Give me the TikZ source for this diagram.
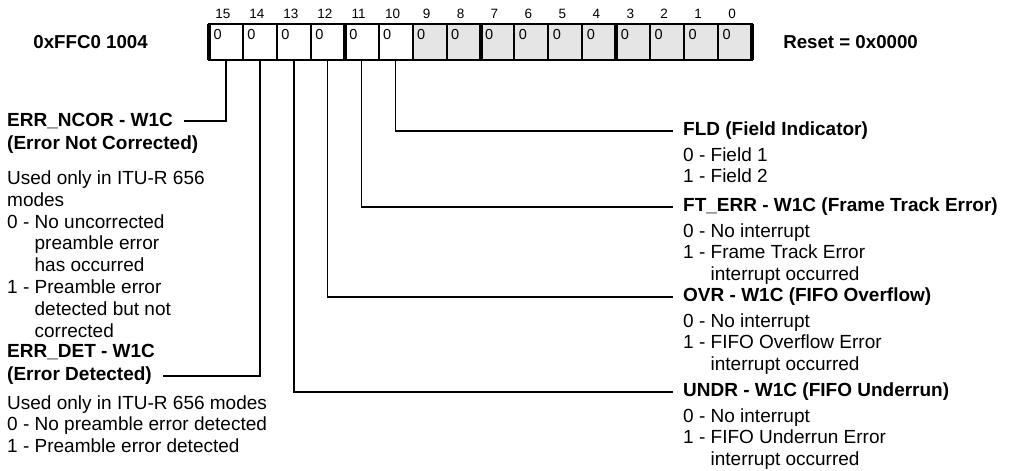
\documentclass[tikz,border=0pt]{standalone}
\usepackage{fontspec}
\setmainfont{Liberation Sans}
\usetikzlibrary{positioning}
\newcommand{\indt}{\hphantom{1 - }}

\begin{document}
\begin{tikzpicture}[
  x=1pt, y=-1pt,
  cell/.style={draw, line width=1pt, text width=24.94pt, inner xsep=4pt, inner ysep=5pt,
               text height=10.4pt, text depth=14.1pt, align=left,
               font=\fontsize{14.5}{16}\selectfont},
  bitnum/.style={font=\fontsize{13.5}{15}\selectfont, inner sep=0pt},
  regname/.style={font=\fontsize{18.7}{22}\selectfont\bfseries, inner sep=0pt},
  hdr/.style={font=\fontsize{19}{22}\selectfont\bfseries, inner sep=0pt},
  desc/.style={font=\fontsize{19}{21.8}\selectfont, align=left, inner sep=0pt},
  conn/.style={line width=1.3pt, shorten >=10.5pt},
  sep/.style={line width=4pt},
]
\useasboundingbox (0,0) rectangle (1009,471);

% register cells
\node[cell, anchor=north west] (b15) at (209,24) {0};
\foreach \i [evaluate=\i as \j using int(\i+1)] in {14,...,10}
  \node[cell, right=0pt of b\j] (b\i) {0};
\foreach \i [evaluate=\i as \j using int(\i+1)] in {9,...,0}
  \node[cell, fill=black!10, right=0pt of b\j] (b\i) {0};
\foreach \i in {15,...,0}
  \node[bitnum, anchor=base, xshift=-3pt] (n\i) at ([yshift=6pt]b\i.north) {\i};
\draw[line width=2pt] (b15.north west) rectangle (b0.south east);
\foreach \i in {15,11,7,3}
  \draw[sep] (b\i.north west) -- (b\i.south west);
\draw[sep] (b0.north east) -- (b0.south east);

\node[regname, left=61pt of b15] (addr) {0xFFC0 1004};
\node[regname, right=31pt of b0] (rst) {Reset = 0x0000};

% left fields
\node[hdr, anchor=west] (ncor) at (7,121) {ERR\_NCOR - W1C};
\node[hdr, anchor=base west, yshift=-23pt] (ncor2) at (ncor.base west) {(Error Not Corrected)};
\node[desc, below=17pt of ncor2.south west, anchor=north west] (ncor-d)
  {Used only in ITU-R 656\\modes\\0 - No uncorrected\\\indt preamble error\\\indt has occurred\\
   1 - Preamble error\\\indt detected but not\\\indt corrected};
\node[hdr, anchor=west] (det) at (7,376) {(Error Detected)};
\node[hdr, anchor=base west, yshift=23pt] (det1) at (det.base west) {ERR\_DET - W1C};
\node[desc, below=10pt of det.south west, anchor=north west] (det-d)
  {Used only in ITU-R 656 modes\\0 - No preamble error detected\\1 - Preamble error detected};

% right fields
\node[hdr, anchor=west] (fld) at (683,131) {FLD (Field Indicator)};
\node[desc, below=7pt of fld.south west, anchor=north west] (fld-d)
  {0 - Field 1\\1 - Field 2};
\node[hdr, anchor=west] (fterr) at (683,207) {FT\_ERR - W1C (Frame Track Error)};
\node[desc, below=7pt of fterr.south west, anchor=north west] (fterr-d)
  {0 - No interrupt\\1 - Frame Track Error\\\indt interrupt occurred};
\node[hdr, anchor=west] (ovr) at (683,297) {OVR - W1C (FIFO Overflow)};
\node[desc, below=7pt of ovr.south west, anchor=north west] (ovr-d)
  {0 - No interrupt\\1 - FIFO Overflow Error\\\indt interrupt occurred};
\node[hdr, anchor=west] (undr) at (683,392) {UNDR - W1C (FIFO Underrun)};
\node[desc, below=7pt of undr.south west, anchor=north west] (undr-d)
  {0 - No interrupt\\1 - FIFO Underrun Error\\\indt interrupt occurred};

% connectors
\draw[conn] (b15.south) |- (ncor.east);
\draw[conn] (b14.south) |- (det.east);
\draw[conn] (b13.south) |- (undr.west);
\draw[conn] (b12.south) |- (ovr.west);
\draw[conn] (b11.south) |- (fterr.west);
\draw[conn] (b10.south) |- (fld.west);
\end{tikzpicture}
\end{document}
